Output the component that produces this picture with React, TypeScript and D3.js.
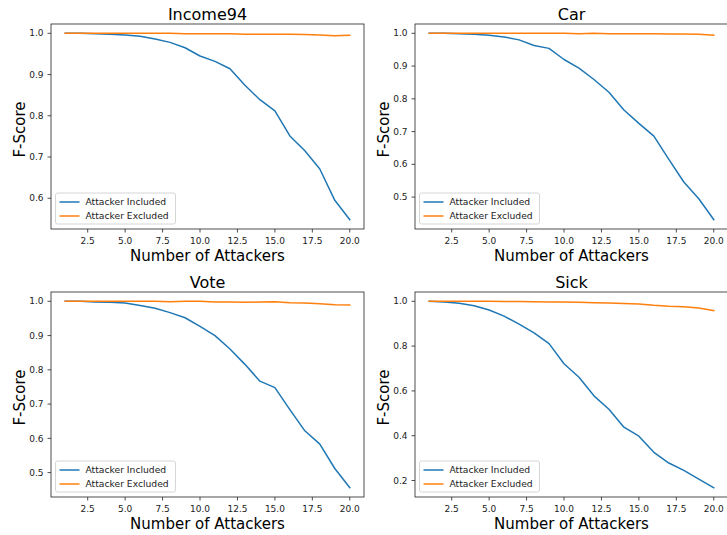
import React from "react";
import * as d3 from "d3";

const attackers = [1, 2, 3, 4, 5, 6, 7, 8, 9, 10, 11, 12, 13, 14, 15, 16, 17, 18, 19, 20];
const xTicks = [2.5, 5.0, 7.5, 10.0, 12.5, 15.0, 17.5, 20.0];

const titles = ["Income94", "Car", "Vote", "Sick"];

const incomeIncluded = [1.0, 1.0, 0.999, 0.998, 0.996, 0.993, 0.986, 0.978, 0.965, 0.945, 0.932, 0.914, 0.874, 0.839, 0.812, 0.751, 0.715, 0.671, 0.595, 0.548];
const incomeExcluded = [1.0, 1.0, 1.0, 1.0, 1.0, 1.0, 1.0, 1.0, 0.999, 0.999, 0.999, 0.999, 0.998, 0.998, 0.998, 0.998, 0.997, 0.996, 0.994, 0.995];

const carIncluded = [1.0, 1.0, 0.999, 0.997, 0.994, 0.989, 0.98, 0.963, 0.954, 0.92, 0.894, 0.859, 0.82, 0.766, 0.725, 0.686, 0.615, 0.546, 0.495, 0.431];
const carExcluded = [1.0, 1.0, 1.0, 1.0, 1.0, 1.0, 1.0, 1.0, 1.0, 1.0, 0.999, 1.0, 0.999, 0.999, 0.999, 0.999, 0.998, 0.998, 0.997, 0.994];

const voteIncluded = [1.0, 1.0, 0.998, 0.997, 0.995, 0.988, 0.98, 0.967, 0.952, 0.927, 0.9, 0.861, 0.816, 0.767, 0.748, 0.684, 0.622, 0.583, 0.512, 0.456];
const voteExcluded = [1.0, 1.0, 1.0, 1.0, 1.0, 1.0, 1.0, 0.999, 1.0, 1.0, 0.998, 0.998, 0.997, 0.998, 0.999, 0.996, 0.995, 0.993, 0.99, 0.989];

const sickIncluded = [1.0, 0.997, 0.991, 0.98, 0.961, 0.934, 0.898, 0.859, 0.811, 0.721, 0.661, 0.578, 0.518, 0.438, 0.398, 0.326, 0.278, 0.245, 0.206, 0.168];
const sickExcluded = [1.0, 1.0, 1.0, 1.0, 1.0, 0.999, 0.999, 0.998, 0.997, 0.997, 0.996, 0.994, 0.993, 0.99, 0.988, 0.982, 0.978, 0.976, 0.97, 0.958];

const yTicksIncome = [0.6, 0.7, 0.8, 0.9, 1.0];
const yTicksCar = [0.5, 0.6, 0.7, 0.8, 0.9, 1.0];
const yTicksVote = [0.5, 0.6, 0.7, 0.8, 0.9, 1.0];
const yTicksSick = [0.2, 0.4, 0.6, 0.8, 1.0];

const seriesNames = ["Attacker Included", "Attacker Excluded"];
const colors = ["#1f77b4", "#ff7f0e"];

const panels = [
  { title: titles[0], inc: incomeIncluded, exc: incomeExcluded, yTicks: yTicksIncome, left: 51, top: 24 },
  { title: titles[1], inc: carIncluded, exc: carExcluded, yTicks: yTicksCar, left: 415, top: 24 },
  { title: titles[2], inc: voteIncluded, exc: voteExcluded, yTicks: yTicksVote, left: 51, top: 292 },
  { title: titles[3], inc: sickIncluded, exc: sickExcluded, yTicks: yTicksSick, left: 415, top: 292 },
];

const W = 313;
const H = 205;
const FONT = "DejaVu Sans, sans-serif";
const INK = "#222";

function Panel({ p }: { p: (typeof panels)[number] }) {
  const x = d3.scaleLinear().domain([1 - 0.95, 20 + 0.95]).range([0, W]);
  const all = [...p.inc, ...p.exc];
  const lo = d3.min(all)!;
  const hi = d3.max(all)!;
  const pad = (hi - lo) * 0.05;
  const y = d3.scaleLinear().domain([lo - pad, hi + pad]).range([H, 0]);
  const line = d3
    .line<number>()
    .x((_, i) => x(attackers[i]))
    .y((d) => y(d));
  const data = [p.inc, p.exc];
  return (
    <g transform={`translate(${p.left},${p.top})`}>
      {data.map((s, i) => (
        <path key={i} d={line(s) || ""} fill="none" stroke={colors[i]} strokeWidth={1.5} strokeLinejoin="round" strokeLinecap="square" />
      ))}
      <rect x={0} y={0} width={W} height={H} fill="none" stroke={INK} strokeWidth={0.8} />
      {xTicks.map((t) => (
        <g key={t} transform={`translate(${x(t)},${H})`}>
          <line y1={0} y2={3.5} stroke={INK} strokeWidth={0.8} />
          <text y={15} textAnchor="middle" fontSize={9} fontFamily={FONT} fill={INK}>
            {t.toFixed(1)}
          </text>
        </g>
      ))}
      {p.yTicks.map((t) => (
        <g key={t} transform={`translate(0,${y(t)})`}>
          <line x1={-3.5} x2={0} stroke={INK} strokeWidth={0.8} />
          <text x={-7.5} dy="0.35em" textAnchor="end" fontSize={9} fontFamily={FONT} fill={INK}>
            {t.toFixed(1)}
          </text>
        </g>
      ))}
      <text x={W / 2} y={-4.5} textAnchor="middle" fontSize={16} fontFamily={FONT} fill="#000">
        {p.title}
      </text>
      <text x={W / 2} y={H + 31.5} textAnchor="middle" fontSize={15} fontFamily={FONT} fill="#000">
        Number of Attackers
      </text>
      <text transform={`translate(${-26},${H / 2 + 3}) rotate(-90)`} textAnchor="middle" fontSize={15} fontFamily={FONT} fill="#000">
        F-Score
      </text>
      <g transform={`translate(4.5,${H - 36})`}>
        <rect x={0} y={0} width={120} height={31} rx={2} fill="#fff" fillOpacity={0.8} stroke="#ccc" strokeWidth={0.8} />
        {seriesNames.map((n, i) => (
          <g key={n} transform={`translate(0,${9 + i * 14})`}>
            <line x1={4} x2={24} stroke={colors[i]} strokeWidth={1.5} />
            <text x={30} dy="0.35em" fontSize={9.2} fontFamily={FONT} fill={INK}>
              {n}
            </text>
          </g>
        ))}
      </g>
    </g>
  );
}

export default function App() {
  return (
    <svg width={727} height={535} style={{ position: "absolute", left: 0, top: 0, background: "#fff" }}>
      {panels.map((p) => (
        <Panel key={p.title} p={p} />
      ))}
    </svg>
  );
}
